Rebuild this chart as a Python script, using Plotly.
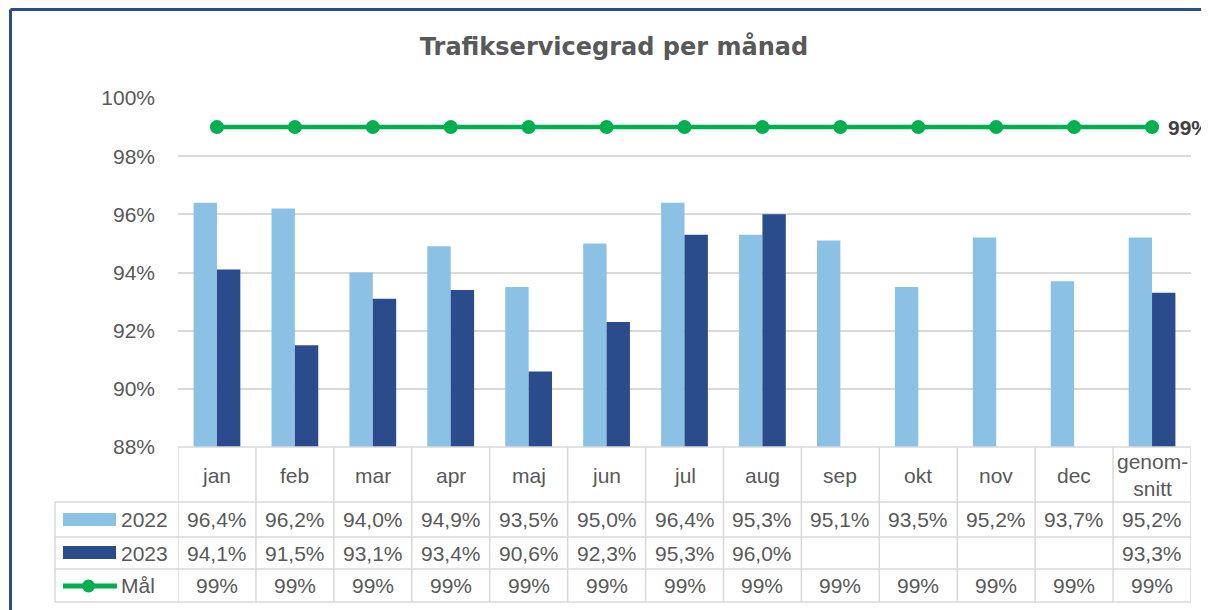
import plotly.graph_objects as go

categories = ["jan", "feb", "mar", "apr", "maj", "jun", "jul", "aug", "sep", "okt", "nov", "dec", "genom-<br>snitt"]
v2022 = [96.4, 96.2, 94.0, 94.9, 93.5, 95.0, 96.4, 95.3, 95.1, 93.5, 95.2, 93.7, 95.2]
v2023 = [94.1, 91.5, 93.1, 93.4, 90.6, 92.3, 95.3, 96.0, None, None, None, None, 93.3]
goal = [99] * 13
yticks = [88, 90, 92, 94, 96, 98, 100]
series_names = ["2022", "2023", "Mål"]

C22 = "#8BC1E5"
C23 = "#2B4C8C"
CG = "#00B050"
GRID = "#D9D9D9"
TXT = "#595959"
FONT = "Liberation Sans"
FS = 21

OFF = 8  # page body margin
W, H = 1209 - OFF, 610 - OFF
L, R, T, B = 178 - OFF, 1191 - OFF, 98 - OFF, 447 - OFF  # plot area px (figure coords)

def px(x):
    return (x - OFF - L) / (R - L)

def py(y):
    return (B - (y - OFF)) / (B - T)

xs = list(range(len(categories)))

fig = go.Figure()
fig.add_bar(x=xs, y=v2022, name="2022", marker=dict(color=C22, line=dict(width=0)))
fig.add_bar(x=xs, y=v2023, name="2023", marker=dict(color=C23, line=dict(width=0)))
fig.add_scatter(x=xs, y=goal, name="Mål", mode="lines+markers",
                line=dict(color=CG, width=4.5), marker=dict(color=CG, size=14),
                cliponaxis=False)

def fmt(v):
    if v is None:
        return ""
    return ("%.1f%%" % v).replace(".", ",")

shapes = []
ann = []
line = dict(color=GRID, width=1.5)
rows_y = [447, 502, 537, 569, 602]
shapes.append(dict(type="line", xref="paper", yref="paper", x0=0, x1=1, y0=py(447), y1=py(447), line=line))
for yy in rows_y[1:]:
    shapes.append(dict(type="line", xref="paper", yref="paper", x0=px(55), x1=1, y0=py(yy), y1=py(yy), line=line))
for i in range(len(categories) + 1):
    shapes.append(dict(type="line", xref="x", yref="paper", x0=i - 0.5, x1=i - 0.5,
                       y0=py(447), y1=py(602), line=line))
shapes.append(dict(type="line", xref="paper", yref="paper", x0=px(55), x1=px(55),
                   y0=py(502), y1=py(602), line=line))

tf = dict(family=FONT, size=FS, color=TXT)
for i, c in enumerate(categories):
    ann.append(dict(x=i, y=py(475), xref="x", yref="paper", text=c, showarrow=False,
                    font=tf, yanchor="middle", xanchor="center"))
row_centers = [519.5, 553, 585.5]
for i in xs:
    for rc, txt in zip(row_centers, [fmt(v2022[i]), fmt(v2023[i]), "%d%%" % goal[i]]):
        if txt:
            ann.append(dict(x=i, y=py(rc), xref="x", yref="paper", text=txt,
                            showarrow=False, font=tf, yanchor="middle", xanchor="center"))

# legend column
shapes.append(dict(type="rect", xref="paper", yref="paper", x0=px(63), x1=px(116),
                   y0=py(526), y1=py(513), fillcolor=C22, line=dict(width=0)))
shapes.append(dict(type="rect", xref="paper", yref="paper", x0=px(63), x1=px(116),
                   y0=py(559), y1=py(546), fillcolor=C23, line=dict(width=0)))
shapes.append(dict(type="line", xref="paper", yref="paper", x0=px(63), x1=px(117),
                   y0=py(586), y1=py(586), line=dict(color=CG, width=5)))
shapes.append(dict(type="circle", xref="paper", yref="paper", x0=px(82), x1=px(95),
                   y0=py(592.5), y1=py(579.5), fillcolor=CG, line=dict(width=0)))
for name, yc in zip(series_names, row_centers):
    ann.append(dict(x=px(119), y=py(yc), xref="paper", yref="paper", text=name, showarrow=False,
                    xanchor="left", yanchor="middle", font=tf))

# goal label
ann.append(dict(x=xs[-1], y=goal[-1], xref="x", yref="y", text="<b>%d%%</b>" % goal[-1],
                showarrow=False, xanchor="left", yanchor="middle", xshift=14,
                font=dict(family=FONT, size=FS, color="#404040")))

# frame border
border = dict(color="#2B4C8C", width=3)
shapes.append(dict(type="line", xref="paper", yref="paper", x0=px(10.5), x1=px(1230),
                   y0=py(9.5), y1=py(9.5), line=border))
shapes.append(dict(type="line", xref="paper", yref="paper", x0=px(10.5), x1=px(10.5),
                   y0=py(9.5), y1=py(640), line=border))

fig.update_layout(
    width=W, height=H,
    margin=dict(l=L, r=W - R, t=T, b=H - B, autoexpand=False),
    paper_bgcolor="white", plot_bgcolor="white",
    barmode="group", bargap=0.4, bargroupgap=0,
    showlegend=False,
    title=dict(text="<b>Trafikservicegrad per månad</b>", x=(614 - OFF) / W, xanchor="center",
               y=1 - (47 - OFF) / H, yanchor="middle",
               font=dict(family="DejaVu Sans", size=24, color=TXT)),
    xaxis=dict(range=[-0.5, len(categories) - 0.5], showticklabels=False, showgrid=False,
               zeroline=False, showline=False, ticks=""),
    yaxis=dict(range=[88, 100], tickvals=yticks, ticktext=["%d%%" % v for v in yticks],
               showgrid=True, gridcolor=GRID, gridwidth=1.5, zeroline=False, showline=False,
               ticks="", ticklabelstandoff=22,
               tickfont=tf),
    shapes=shapes, annotations=ann,
)

fig.write_html("out.html")
